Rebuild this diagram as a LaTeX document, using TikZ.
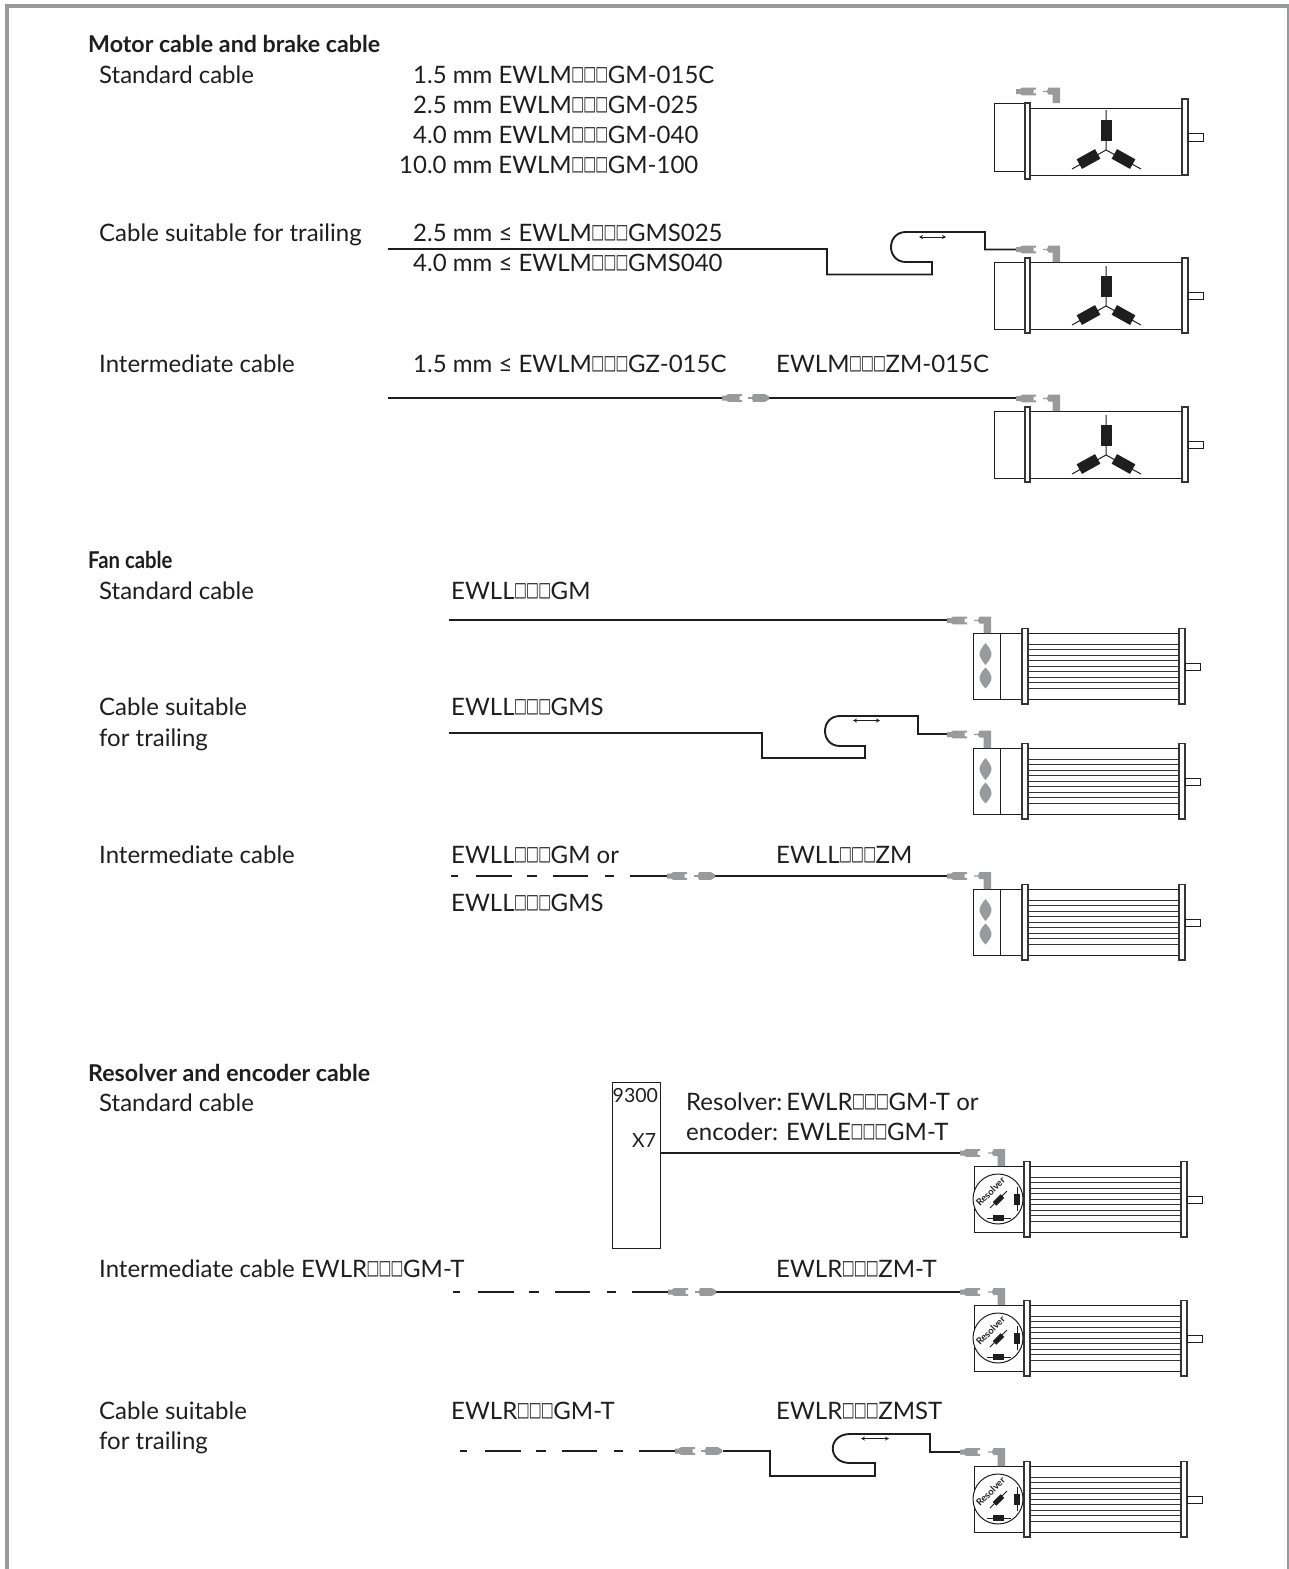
\documentclass[tikz,border=0pt]{standalone}
\usepackage{graphicx}
\usepackage{fontspec}
\setmainfont{Lato}
\newfontfamily\bxfont{DejaVu Sans}
\usetikzlibrary{arrows.meta}
\definecolor{plug}{HTML}{999A9C}
\definecolor{ink}{HTML}{1E1E1E}
\newcommand{\onebx}{\hspace{-0.4pt}\raisebox{2.4pt}{\scalebox{0.68}[1]{\bxfont\fontsize{20}{20}\selectfont □}}\hspace{-0.4pt}}
\newcommand{\bbb}{\onebx\onebx\onebx}
\tikzset{
  txt/.style={anchor=base west,inner sep=0pt,text=ink,font=\fontsize{24}{26}\selectfont},
  head/.style={txt,font=\fontsize{23.2}{26}\selectfont\bfseries},
  small/.style={txt,font=\fontsize{19.5}{21}\selectfont},
  cable/.style={draw=ink,line width=1.9pt},
  dashcable/.style={cable,dash pattern=on 7pt off 18pt on 36pt off 15pt on 10pt off 16pt on 35pt off 17pt on 9pt off 16pt on 60pt},
  thin line/.style={draw=ink,line width=1pt},
  flange/.style={draw=ink!90,fill=white,line width=1.1pt},
  plugfill/.style={fill=plug,draw=none},
  rib/.style={draw=ink!90,line width=1pt},
  travel/.style={draw=ink,line width=0.8pt,{Stealth[length=4pt,width=4pt]}-{Stealth[length=4pt,width=4pt]}},
}
% left plug: notch to the right; (x, y) = tail
\newcommand{\plugA}[2]{\fill[plugfill] (#1,#2-2.5) -- (#1+4,#2-2.5) -- (#1+6,#2-3.8) -- (#1+20,#2-3.8) -- (#1+20,#2-1.8) -- (#1+17.5,#2-1.8) -- (#1+17.5,#2+1.8) -- (#1+20,#2+1.8) -- (#1+20,#2+3.8) -- (#1+6,#2+3.8) -- (#1+4,#2+2.5) -- (#1,#2+2.5) -- cycle;}
% angle plug: (x, y) = stub, #3 = y of bottom
\newcommand{\plugB}[3]{\fill[plugfill] (#1,#2-0.7) -- (#1+4,#2-0.7) -- (#1+5.5,#2-3.8) -- (#1+17,#2-3.8) -- (#1+17,#3) -- (#1+9.5,#3) -- (#1+9.5,#2+3) -- (#1+5.5,#2+3) -- (#1+4,#2+0.7) -- (#1,#2+0.7) -- cycle;}
% inline plug, right half
\newcommand{\plugC}[2]{\fill[plugfill] (#1,#2-0.8) -- (#1+4,#2-0.8) -- (#1+5,#2-3.8) -- (#1+17,#2-3.8) -- (#1+21,#2-1.5) -- (#1+21,#2+1.5) -- (#1+17,#2+3.8) -- (#1+5,#2+3.8) -- (#1+4,#2+0.8) -- (#1,#2+0.8) -- cycle;}
\newcommand{\resist}[5]{\begin{scope}[shift={(#1,#2)},rotate=#3]\fill[ink] (-#4,-#5) rectangle (#4,#5);\end{scope}}
% star winding, #1 = y reference
\newcommand{\starw}[1]{\begin{scope}[shift={(0,#1)}]
  \draw[thin line] (1106,4) -- (1106,44) (1072,63) -- (1106,44) -- (1141,63);
  \resist{1106.5}{24}{0}{5.5}{10.5}
  \resist{1088.5}{53}{29}{10.5}{5.5}
  \resist{1123.5}{53}{-29}{10.5}{5.5}
\end{scope}}
\newcommand{\ribs}[1]{\foreach \r in {0,...,8}{\draw[rib] (#1,11.4+5.45*\r) -- (#1+151,11.4+5.45*\r);}}
% motor with brake housing
\newcommand{\motorA}[1]{\begin{scope}[shift={(0,#1)}]
  \draw[thin line] (994,0) rectangle (1181,67);
  \draw[flange] (1025,-4) rectangle (1030,71);
  \draw[flange] (1182,-4) rectangle (1188,71);
  \draw[thin line] (1188,30) rectangle (1203,37);
\end{scope}\starw{#1}}
% motor with fan
\newcommand{\motorF}[1]{\begin{scope}[shift={(0,#1)}]
  \draw[thin line] (973,0) rectangle (1179,66.5);
  \draw[thin line] (1000.5,0) -- (1000.5,66.5);
  \ribs{1028}
  \draw[flange] (1022,-4.5) rectangle (1028,71);
  \draw[flange] (1179,-4.5) rectangle (1185,71);
  \draw[thin line] (1185,30) rectangle (1200,37.5);
  \fill[plug] (985.5,10) .. controls (982,14) and (979.5,18) .. (979.5,21) .. controls (979.5,24) and (982,28) .. (985.5,32) .. controls (989,28) and (991.5,24) .. (991.5,21) .. controls (991.5,18) and (989,14) .. (985.5,10) -- cycle;
  \fill[plug] (985.5,34.5) .. controls (982,38) and (979.5,42) .. (979.5,45) .. controls (979.5,48) and (982,52) .. (985.5,55.5) .. controls (989,52) and (991.5,48) .. (991.5,45) .. controls (991.5,42) and (989,38) .. (985.5,34.5) -- cycle;
\end{scope}}
% motor with resolver
\newcommand{\motorR}[1]{\begin{scope}[shift={(0,#1)}]
  \draw[thin line] (974,0) rectangle (1181,66.5);
  \ribs{1030}
  \draw[flange] (1024,-4.5) rectangle (1030,71);
  \draw[flange] (1181,-4.5) rectangle (1187,71);
  \draw[thin line] (1187,30) rectangle (1202,37.5);
  \draw[thin line,fill=white] (998,33) circle (25);
  \draw[thin line] (990,42) -- (1007,25);
  \resist{998.5}{34}{45}{5.5}{2.6}
  \draw[thin line] (1017,21) -- (1017,45);
  \resist{1017}{33}{0}{2.6}{5.5}
  \draw[thin line] (987,52) -- (1011,52);
  \resist{998.5}{52}{0}{5.5}{2.6}
  \node[font=\fontsize{9.5}{10}\selectfont\bfseries,text=ink,rotate=45,inner sep=0pt] (res#1) at (990.5,25.5) {Resolver};
\end{scope}}
\begin{document}
\begin{tikzpicture}[x=1pt,y=-1pt]
\useasboundingbox (0,0) rectangle (1289,1569);
% frame
\fill[plug] (5,4) rectangle (8.5,1569);
\fill[plug] (5,4) rectangle (1289,8);
\fill[plug] (1286.5,4) rectangle (1289,1569);

% ---------- Motor cable and brake cable
\node[head] (h1) at (88,52) {Motor cable and brake cable};
\node[txt] (a1) at (99,83) {Standard cable};
\node[txt] (a2) at (413,83) {1.5 mm EWLM\bbb GM-015C};
\node[txt] (a3) at (413,113) {2.5 mm EWLM\bbb GM-025};
\node[txt] (a4) at (413,143) {4.0 mm EWLM\bbb GM-040};
\node[txt] (a5) at (399,173) {10.0 mm EWLM\bbb GM-100};
\node[txt] (b1) at (99,241) {Cable suitable for trailing};
\node[txt] (b2) at (413,241) {2.5 mm ≤ EWLM\bbb GMS025};
\node[txt] (b3) at (413,271) {4.0 mm ≤ EWLM\bbb GMS040};
\node[txt] (c1) at (99,372) {Intermediate cable};
\node[txt] (c2) at (413,372) {1.5 mm ≤ EWLM\bbb GZ-015C};
\node[txt] (c3) at (776,372) {EWLM\bbb ZM-015C};

% motor 1 (parts sit slightly offset in the reference)
\draw[thin line] (994,103) rectangle (1025,171);
\draw[thin line] (1030,108) rectangle (1182,175);
\draw[flange] (1025,103) rectangle (1030,179);
\draw[flange] (1182,99) rectangle (1188,175);
\draw[thin line] (1188,133) rectangle (1203,141);
\starw{106}
\plugA{1016}{91.5}
\plugB{1043}{91.5}{103}

% motor 2
\motorA{262}
\coordinate (m2s) at (388,249);
\coordinate (m2e) at (1016,249.5);
\draw[cable,line join=miter] (m2s) -- (827,249) -- (827,274.5) -- (932,274.5) -- (932,262) -- (906,262) .. controls (886,262) and (886,232) .. (906,232) -- (985,232) -- (985,249.5) -- (m2e);
\draw[travel] (919,237) -- (946,237);
\plugA{1016}{249.5}
\plugB{1043}{249.5}{262}

% motor 3
\motorA{411}
\coordinate (m3s) at (388,398);
\coordinate (m3a) at (722,398);
\coordinate (m3b) at (769,398);
\coordinate (m3e) at (1016,398);
\draw[cable] (m3s) -- (m3a);
\draw[cable] (m3b) -- (m3e);
\plugA{722}{398}
\plugC{748}{398}
\plugA{1016}{398.5}
\plugB{1043}{398.5}{411}

% ---------- Fan cable
\node[head] (h2) at (88,568) {\scalebox{0.875}[1]{Fan cable}};
\node[txt] (d1) at (99,599) {Standard cable};
\node[txt] (d2) at (451,599) {EWLL\bbb GM};
\node[txt] (e1) at (99,715) {Cable suitable};
\node[txt] (e2) at (99,746) {for trailing};
\node[txt] (e3) at (451,715) {EWLL\bbb GMS};
\node[txt] (f1) at (99,863) {Intermediate cable};
\node[txt] (f2) at (451,863) {EWLL\bbb GM or};
\node[txt] (f3) at (776,863) {EWLL\bbb ZM};
\node[txt] (f4) at (451,911) {EWLL\bbb GMS};

\motorF{633}
\coordinate (d3) at (449,620);
\coordinate (d4) at (947,620);
\draw[cable] (d3) -- (d4);
\plugA{947}{620.5}
\plugB{974}{620.5}{633}

\motorF{748}
\coordinate (e4) at (449,733);
\coordinate (e5) at (947,734);
\draw[cable] (e4) -- (762,733) -- (762,758) -- (865,758) -- (865,746) -- (840,746) .. controls (820,746) and (820,716) .. (840,716) -- (918,716) -- (918,734) -- (e5);
\draw[travel] (853,720.5) -- (880,720.5);
\plugA{947}{734.5}
\plugB{974}{734.5}{748}

\motorF{889}
\coordinate (f5) at (451,876);
\coordinate (f6) at (667,876);
\coordinate (f7) at (715,876);
\coordinate (f8) at (947,876);
\draw[dashcable] (f5) -- (f6);
\draw[cable] (f7) -- (f8);
\plugA{667}{876}
\plugC{694}{876}
\plugA{947}{876}
\plugB{974}{876}{889}

% ---------- Resolver and encoder cable
\node[head] (h3) at (88,1081) {Resolver and encoder cable};
\node[txt] (g1) at (99,1111) {Standard cable};
\node[txt] (g2) at (686,1110) {Resolver:\hspace{-4pt} EWLR\bbb GM-T or};
\node[txt] (g3) at (686,1140) {encoder:\ \hspace{2pt}EWLE\bbb GM-T};
\draw[thin line] (612,1082) rectangle (660,1248);
\node[small] (g4) at (612.5,1102) {9300};
\node[small] (g5) at (632,1147) {X7};
\motorR{1166}
\coordinate (g6) at (660,1153);
\coordinate (g7) at (960,1153);
\draw[cable] (g6) -- (g7);
\plugA{960}{1153}
\plugB{988}{1153}{1166}

\node[txt] (i1) at (99,1277) {Intermediate cable EWLR\bbb GM-T};
\node[txt] (i2) at (776,1277) {EWLR\bbb ZM-T};
\motorR{1305}
\coordinate (i3) at (453,1292);
\coordinate (i4) at (668,1292);
\coordinate (i5) at (716,1292);
\coordinate (i6) at (960,1292);
\draw[dashcable] (i3) -- (i4);
\draw[cable] (i5) -- (i6);
\plugA{668}{1292}
\plugC{695}{1292}
\plugA{960}{1292}
\plugB{988}{1292}{1305}

\node[txt] (j1) at (99,1419) {Cable suitable};
\node[txt] (j2) at (99,1449) {for trailing};
\node[txt] (j3) at (451,1419) {EWLR\bbb GM-T};
\node[txt] (j4) at (776,1419) {EWLR\bbb ZMST};
\motorR{1466}
\coordinate (j5) at (460,1451);
\coordinate (j6) at (675,1451);
\coordinate (j7) at (723,1451);
\coordinate (j8) at (960,1452);
\draw[dashcable] (j5) -- (j6);
\draw[cable] (j7) -- (770,1451) -- (770,1476) -- (875,1476) -- (875,1463) -- (850,1463) .. controls (827,1463) and (827,1434) .. (850,1434) -- (930,1434) -- (930,1452) -- (j8);
\draw[travel] (861,1438.5) -- (889,1438.5);
\plugA{675}{1451}
\plugC{701}{1451}
\plugA{960}{1452}
\plugB{988}{1452}{1466}
\end{tikzpicture}
\end{document}
